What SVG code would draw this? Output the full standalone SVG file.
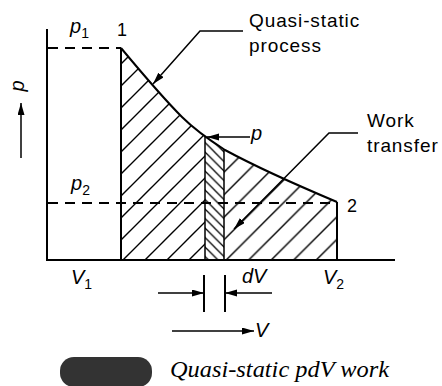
<svg xmlns="http://www.w3.org/2000/svg" width="442" height="386" viewBox="0 0 442 386">
<style>
.ln{stroke:#000;stroke-width:2;fill:none}
.thin{stroke:#000;stroke-width:1.5;fill:none}
.dash{stroke:#000;stroke-width:2;fill:none;stroke-dasharray:10 7}
.sans{font-family:"Liberation Sans",Arial,sans-serif;font-size:19px;fill:#000;letter-spacing:0.9px}
.it{font-family:"Liberation Sans",Arial,sans-serif;font-style:italic;font-size:20px;fill:#000}
.sub{font-size:14px;font-style:normal}
.num{font-family:"Liberation Sans",Arial,sans-serif;font-size:18px;fill:#000}
.cap{font-family:"Liberation Serif","Times New Roman",serif;font-style:italic;font-size:24px;fill:#000}
</style>
<defs>
<marker id="ah" markerUnits="userSpaceOnUse" markerWidth="13" markerHeight="8" refX="12" refY="3.5" orient="auto">
<path d="M0,0 L12,3.5 L0,7 z" fill="#000"/>
</marker>
<pattern id="hL" patternUnits="userSpaceOnUse" width="22" height="22" patternTransform="translate(9,0)">
<path d="M-2,2 L2,-2 M0,22 L22,0 M20,24 L24,20" stroke="#000" stroke-width="1.4"/>
</pattern>
<pattern id="hR" patternUnits="userSpaceOnUse" width="22.5" height="22.5" patternTransform="translate(13.75,0)">
<path d="M-2,2 L2,-2 M0,22.5 L22.5,0 M20.5,24.5 L24.5,20.5" stroke="#000" stroke-width="1.4"/>
</pattern>
<pattern id="hS" patternUnits="userSpaceOnUse" width="9.5" height="9.5" patternTransform="translate(205,0)">
<path d="M-2,-2 L11.5,11.5 M-2,7.5 L2,11.5 M7.5,-2 L11.5,2" stroke="#000" stroke-width="1.3"/>
</pattern>
<clipPath id="cL"><rect x="121" y="40" width="84" height="220"/></clipPath>
<clipPath id="cR"><rect x="224" y="40" width="113" height="220"/></clipPath>
</defs>
<rect width="442" height="386" fill="#fff"/>

<g id="hatching">
<path clip-path="url(#cL)" d="M121,260 L121,48 C141,72 165,100 182,117 C196,131 211,141 225,150 C262,170 299,186 337,202 L337,260 Z" fill="url(#hL)"/>
<path clip-path="url(#cR)" d="M121,260 L121,48 C141,72 165,100 182,117 C196,131 211,141 225,150 C262,170 299,186 337,202 L337,260 Z" fill="url(#hR)"/>
<path id="strip" d="M205,260 L205,136.5 Q214.5,143.5 224,149.4 L224,260 Z" fill="url(#hS)"/>
</g>

<g id="axes">
<path class="ln" d="M47,29 L47,260 L395,260"/>
<line class="thin" x1="21" y1="158" x2="21" y2="103" marker-end="url(#ah)"/>
<text class="it" transform="translate(24,86) rotate(-90)" text-anchor="middle">p</text>
</g>

<g id="process">
<path class="ln" d="M121,48 C141,72 165,100 182,117 C196,131 211,141 225,150 C262,170 299,186 337,202"/>
<path class="ln" d="M121,48 L121,260 M337,202 L337,260"/>
<path class="thin" d="M205,136.5 L205,260 M224,149.4 L224,260" stroke-width="1.8"/>
<line class="dash" x1="48" y1="48" x2="121" y2="48"/>
<line class="dash" x1="48" y1="203" x2="337" y2="203"/>
</g>

<g id="connectors">
<path class="thin" d="M243,31 L200,31 L153,84" marker-end="url(#ah)"/>
<path class="thin" d="M358,133 L329,133 L234,229" stroke-width="1.7" marker-end="url(#ah)"/>
<line class="thin" x1="250" y1="137" x2="207" y2="137" marker-end="url(#ah)"/>
<line class="thin" x1="158" y1="293" x2="204" y2="293" marker-end="url(#ah)"/>
<line class="thin" x1="272" y1="293" x2="225" y2="293" marker-end="url(#ah)"/>
<line class="ln" x1="204" y1="275" x2="204" y2="312"/>
<line class="ln" x1="225" y1="275" x2="225" y2="312"/>
<line class="thin" x1="172" y1="331" x2="254" y2="331" marker-end="url(#ah)"/>
</g>

<g id="labels">
<text class="it" x="70" y="33">p<tspan class="sub" dy="5">1</tspan></text>
<text class="num" x="117" y="36">1</text>
<text class="it" x="71" y="190">p<tspan class="sub" dy="5">2</tspan></text>
<text class="num" x="347" y="212">2</text>
<text class="it" x="71" y="284">V<tspan class="sub" dy="5">1</tspan></text>
<text class="it" x="242" y="283">dV</text>
<text class="it" x="323" y="284">V<tspan class="sub" dy="5">2</tspan></text>
<text class="it" x="251" y="140">p</text>
<text class="it" x="255" y="337">V</text>
<text class="sans" x="249" y="27">Quasi-static</text>
<text class="sans" x="249" y="52">process</text>
<text class="sans" x="367" y="127">Work</text>
<text class="sans" x="367" y="152">transfer</text>
</g>

<g id="caption">
<rect x="60" y="357" width="92" height="30" rx="14" fill="#333"/>
<text class="cap" x="170" y="377" textLength="219" lengthAdjust="spacingAndGlyphs">Quasi-static pdV work</text>
</g>
</svg>
